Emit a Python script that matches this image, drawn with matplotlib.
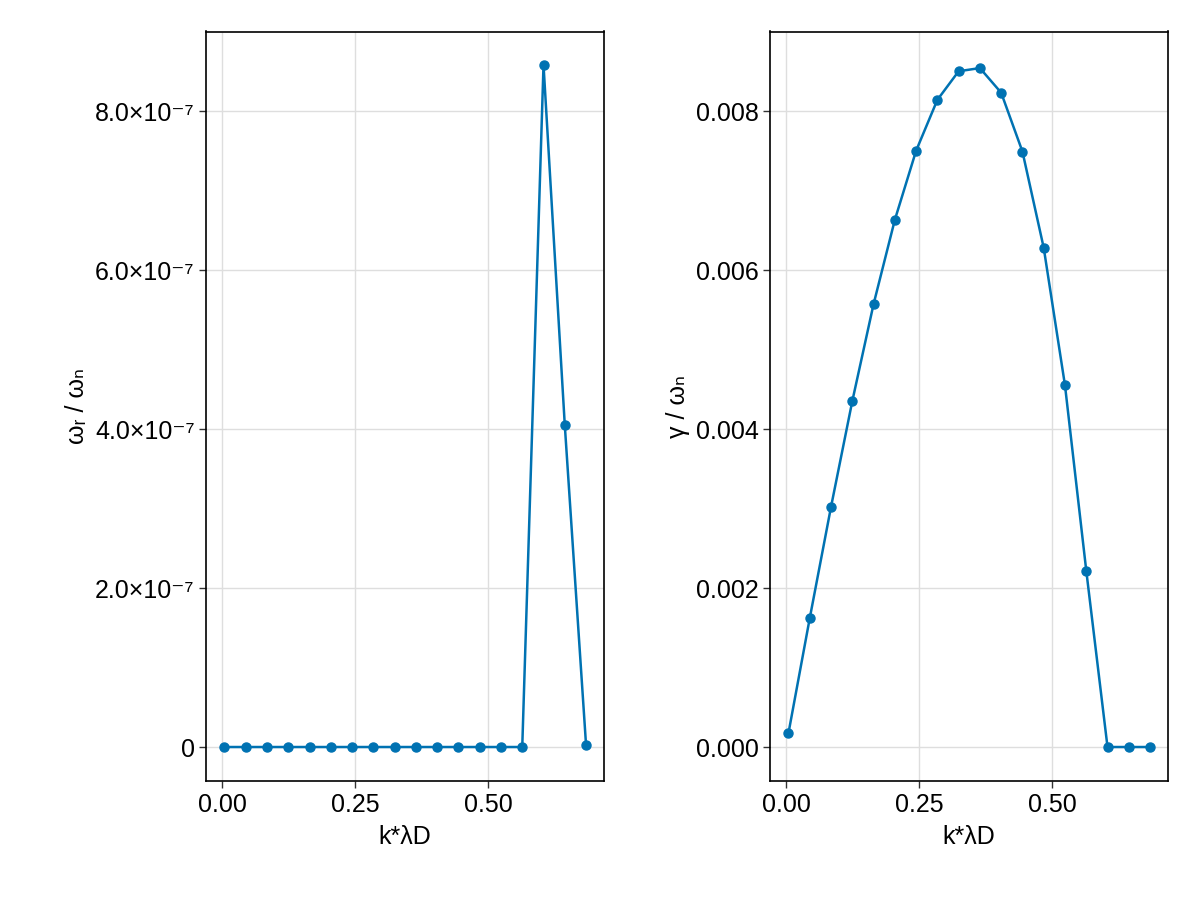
import numpy as np
import matplotlib.pyplot as plt
from matplotlib.ticker import FuncFormatter, FixedLocator

plt.rcParams['font.family'] = ['Liberation Sans', 'DejaVu Sans']
plt.rcParams['font.size'] = 18

# data
k = [0.004 + 0.04 * i for i in range(18)]
omega_r = [0, 0, 0, 0, 0, 0, 0, 0, 0, 0, 0, 0, 0, 0, 0, 8.58e-7, 4.05e-7, 2.5e-9]
gamma = [0.000176, 0.00162, 0.00302, 0.00435, 0.00557, 0.00663, 0.00750, 0.00814,
         0.00850, 0.00854, 0.00823, 0.00749, 0.00628, 0.00455, 0.00222, 0, 0, 0]

col = '#0072b2'

def sci(v, pos):
    if v == 0:
        return '0'
    e = int(np.floor(np.log10(abs(v))))
    m = v / 10**e
    sup = str(e).replace('-', '\u207b').translate(str.maketrans('0123456789', '⁰¹²³⁴⁵⁶⁷⁸⁹'))
    return f'{m:.1f}×10{sup}'

fig = plt.figure(figsize=(12, 9), dpi=100)
ax1 = fig.add_axes([0.172, 0.132, 0.331, 0.833])
ax2 = fig.add_axes([0.642, 0.132, 0.331, 0.833])

for ax, y in [(ax1, omega_r), (ax2, gamma)]:
    ax.plot(k, y, color=col, lw=1.8, marker='o', ms=6.5)
    ax.grid(True, color='#dedede', lw=1)
    ax.set_axisbelow(True)
    ax.set_xlabel('k*λD', labelpad=6)
    ax.xaxis.set_major_locator(FixedLocator([0, 0.25, 0.5]))
    ax.xaxis.set_major_formatter(FuncFormatter(lambda v, p: f'{v:.2f}'))
    ax.tick_params(length=5, width=1, color='#333333', labelsize=18)
    ax.set_xlim(-0.03, 0.717)
    for s in ax.spines.values():
        s.set_linewidth(1.2)

ax1.set_ylim(-0.43e-7, 9.0e-7)
ax1.yaxis.set_major_locator(FixedLocator([0, 2e-7, 4e-7, 6e-7, 8e-7]))
ax1.yaxis.set_major_formatter(FuncFormatter(sci))
ax1.set_ylabel('ωᵣ / ωₙ')

ax2.set_ylim(-0.00043, 0.0090)
ax2.yaxis.set_major_locator(FixedLocator([0, 0.002, 0.004, 0.006, 0.008]))
ax2.yaxis.set_major_formatter(FuncFormatter(lambda v, p: f'{v:.3f}'))
ax2.set_ylabel('γ / ωₙ')

fig.savefig('out.png')
